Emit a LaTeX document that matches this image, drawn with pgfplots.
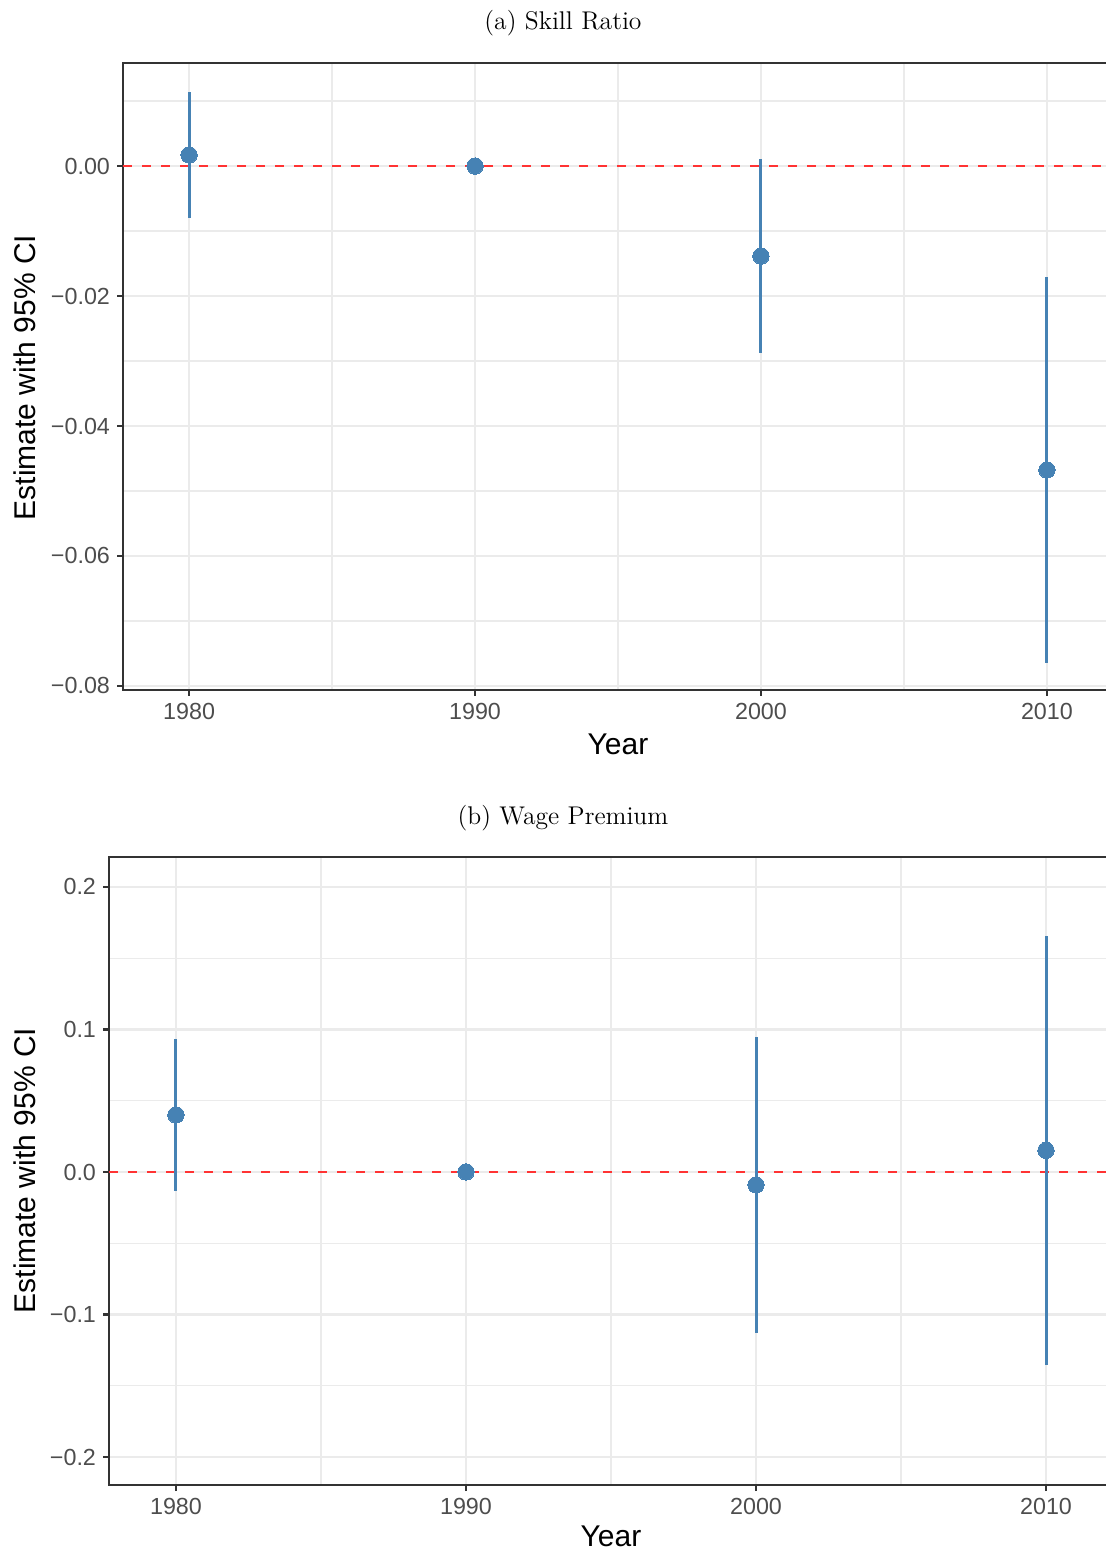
\documentclass[border=0pt]{standalone}
\usepackage{fontspec}
\setsansfont{Liberation Sans}
\usepackage{pgfplots}
\usepackage{pgfplotstable}
\pgfplotsset{compat=1.18}

\definecolor{ptblue}{HTML}{4682B4}
\definecolor{gridmaj}{HTML}{EBEBEB}
\definecolor{border}{HTML}{333333}
\definecolor{ticktext}{HTML}{4D4D4D}
\definecolor{refred}{HTML}{FF3333}

% estimates with lower and upper 95% bounds
\pgfplotstableread{
year est lo hi
1980 0.0017 -0.0080 0.0114
1990 0 0 0
2000 -0.01385 -0.02877 0.0011
2010 -0.04677 -0.0765 -0.01713
}\skill

\pgfplotstableread{
year est lo hi
1980 0.040 -0.0133 0.0933
1990 0 0 0
2000 -0.0091 -0.113 0.0947
2010 0.0152 -0.1354 0.1656
}\wage

\pgfplotsset{
  panel/.style={
    scale only axis,
    anchor=south west,
    xmin=1977.69, xmax=2012.31,
    xtick={1980,1990,2000,2010},
    minor xtick={1985,1995,2005},
    xticklabels={1980,1990,2000,2010},
    grid=both,
    major grid style={gridmaj, line width=1.1pt},
    minor grid style={gridmaj, line width=0.6pt},
    axis line style={border, line width=1.1pt},
    tick style={border, line width=1.1pt},
    major tick length=3pt,
    minor tick length=0pt,
    tick align=outside,
    xtick pos=bottom, ytick pos=left,
    ticklabel style={font=\sffamily\fontsize{11.65}{13}\selectfont, text=ticktext},
    /pgf/number format/assume math mode=true,
    scaled y ticks=false,
  },
  ci/.style={only marks, mark=none,
    error bars/.cd, y dir=both, y explicit, error mark=none,
    error bar style={ptblue, line width=1.5pt}},
  est/.style={only marks, color=ptblue, mark=*, mark size=4.1pt,
    mark options={fill=ptblue, draw=ptblue, line width=0pt}},
  zero/.style={refred, line width=1.4pt, dash pattern=on 4.7pt off 4.8pt},
}

\begin{document}
\begin{tikzpicture}
\useasboundingbox (0,0) rectangle (553pt,777pt);
\clip (0,0) rectangle (553pt,777pt);

% (a) Skill ratio
\begin{axis}[panel,
  at={(61.5pt,432pt)}, width=495pt, height=313.5pt,
  ymin=-0.08062, ymax=0.01585,
  ytick={-0.08,-0.06,-0.04,-0.02,0},
  yticklabels={−0.08,−0.06,−0.04,−0.02,0.00},
  minor ytick={-0.07,-0.05,-0.03,-0.01,0.01},
]
\addplot[zero] coordinates {(1977.69,0) (2012.31,0)};
\addplot[ci] table[x=year, y=est,
  y error plus expr=\thisrow{hi}-\thisrow{est},
  y error minus expr=\thisrow{est}-\thisrow{lo}] {\skill};
\addplot[est] table[x=year, y=est] {\skill};
\end{axis}

% (b) Wage premium
\begin{axis}[panel,
  at={(54.5pt,34.5pt)}, width=502pt, height=314pt,
  ymin=-0.2196, ymax=0.221,
  ytick={-0.2,-0.1,0,0.1,0.2},
  yticklabels={−0.2,−0.1,0.0,0.1,0.2},
  minor ytick={-0.15,-0.05,0.05,0.15},
]
\addplot[zero] coordinates {(1977.69,0) (2012.31,0)};
\addplot[ci] table[x=year, y=est,
  y error plus expr=\thisrow{hi}-\thisrow{est},
  y error minus expr=\thisrow{est}-\thisrow{lo}] {\wage};
\addplot[est] table[x=year, y=est] {\wage};
\end{axis}

% panel titles and axis titles
\node[anchor=base, font=\rmfamily\fontsize{12.8}{15}\selectfont] at (281.5pt,762pt) {(a) Skill Ratio};
\node[anchor=base, font=\rmfamily\fontsize{12.8}{15}\selectfont] at (281.5pt,364.5pt) {(b) Wage Premium};
\node[anchor=base, font=\sffamily\fontsize{15}{18}\selectfont] at (309pt,399.5pt) {Year};
\node[anchor=base, font=\sffamily\fontsize{15}{18}\selectfont] at (305.5pt,3.5pt) {Year};
\node[anchor=base, rotate=90, font=\sffamily\fontsize{15}{18}\selectfont] at (17.5pt,588.25pt) {Estimate with 95\% CI};
\node[anchor=base, rotate=90, font=\sffamily\fontsize{15}{18}\selectfont] at (17.5pt,191.75pt) {Estimate with 95\% CI};
\end{tikzpicture}
\end{document}
